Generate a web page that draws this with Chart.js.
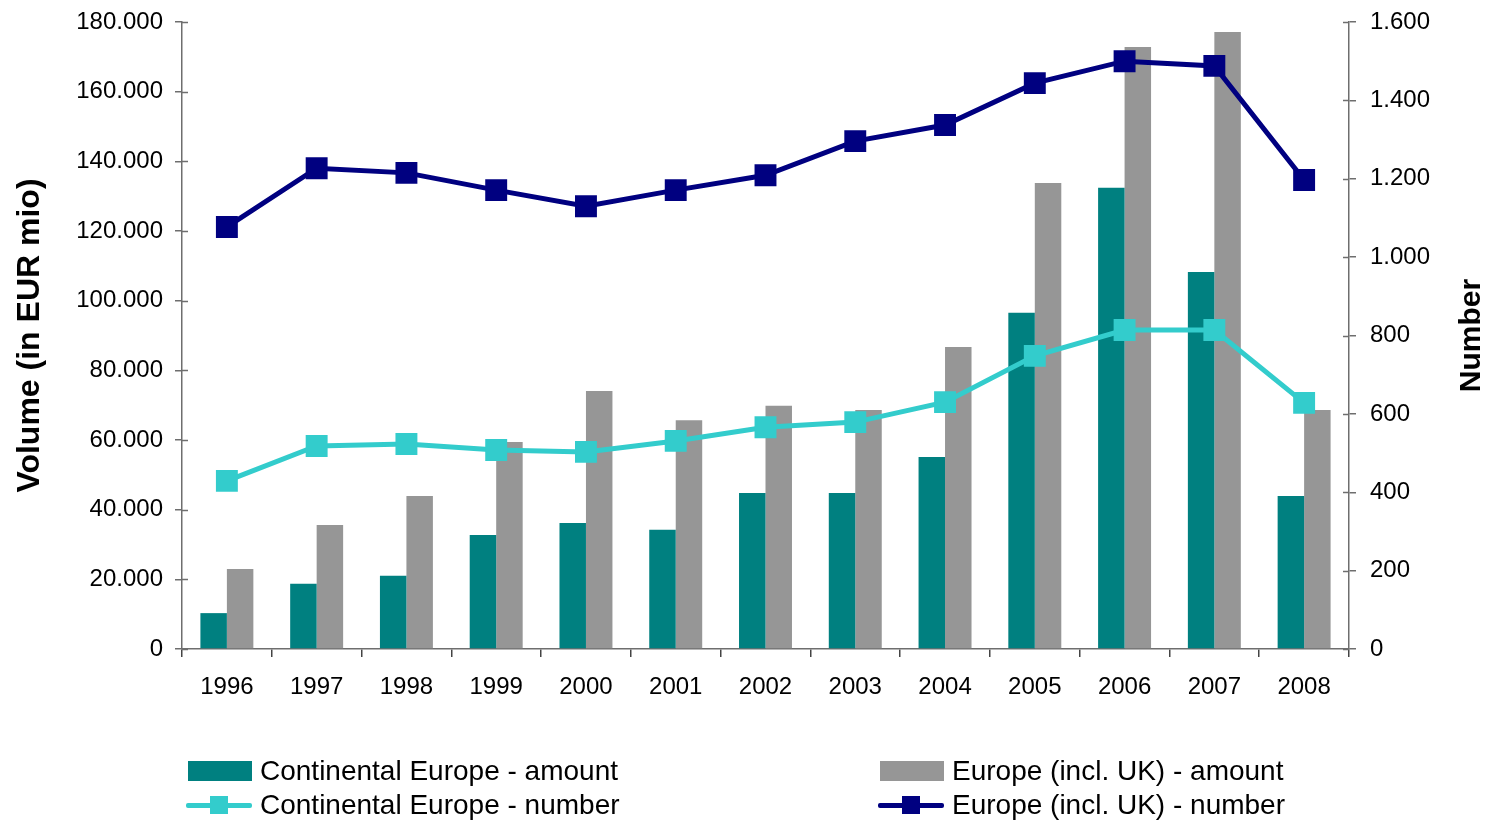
<!DOCTYPE html>
<html>
<head>
<meta charset="utf-8">
<script src="https://cdn.jsdelivr.net/npm/chart.js@4"></script>
<style>
  html, body { margin: 0; padding: 0; background: #fff; }
  #wrap { position: relative; width: 1490px; height: 821px; }
  #chart { position: absolute; left: 0; top: 0; }
  .legend-item {
    position: absolute;
    height: 34px;
    display: flex;
    align-items: center;
    font-family: "Liberation Sans", Arial, sans-serif;
    font-size: 28px;
    color: #000;
    white-space: nowrap;
  }
  .swatch-box { width: 64px; height: 20px; margin-right: 8px; }
  .swatch-line { position: relative; width: 66px; height: 20px; margin-right: 8px; }
  .swatch-line .ln { position: absolute; left: 0; right: 0; top: 8px; height: 5px; border-radius: 2px; }
  .swatch-line .pt { position: absolute; left: 24px; top: 1px; width: 18px; height: 18px; }
</style>
</head>
<body>
<div id="wrap">
  <canvas id="chart" width="1490" height="821"></canvas>
  <div id="legend"></div>
</div>
<script>
// ============================
// DATA
// ============================
const years = ["1996", "1997", "1998", "1999", "2000", "2001", "2002",
               "2003", "2004", "2005", "2006", "2007", "2008"];

// volume in EUR mio (left axis)
const continentalAmount = [10300, 18700, 21000, 32700, 36200, 34200, 44800,
                           44800, 55100, 96500, 132400, 108200, 43900];
const europeAmount = [23000, 35600, 43900, 59400, 74100, 65700, 69800,
                      68600, 86700, 133800, 172800, 177100, 68600];

// number of deals (right axis)
const continentalNumber = [429, 518, 523, 508, 503, 531, 566,
                           579, 630, 748, 814, 814, 628];
const europeNumber = [1077, 1227, 1215, 1171, 1130, 1171, 1209,
                      1296, 1337, 1444, 1500, 1488, 1197];

const seriesLabels = [
  "Continental Europe - amount",
  "Europe (incl. UK) - amount",
  "Continental Europe - number",
  "Europe (incl. UK) - number"
];

const leftTitle = "Volume (in EUR mio)";
const rightTitle = "Number";

// ============================
// STYLE
// ============================
const tealColor = "#008080";
const greyColor = "#969696";
const cyanColor = "#33CCCC";
const navyColor = "#000080";
const axisColor = "#6e6e6e";
const fontFamily = "'Liberation Sans', Arial, sans-serif";

function formatDe(value) {
  return Number(value).toLocaleString("de-DE");
}

// keep the tick labels from pushing the plot area down
function dropLabelPadding(scale) {
  scale.paddingTop = 0;
  scale.paddingBottom = 0;
}

// inner tick halves + right axis title (reads bottom to top)
const extrasPlugin = {
  id: "extras",
  afterDraw(chart) {
    const { ctx, chartArea, scales } = chart;
    ctx.save();
    ctx.strokeStyle = axisColor;
    ctx.lineWidth = 1.5;
    scales.y.ticks.forEach((t, i) => {
      const py = Math.round(scales.y.getPixelForTick(i)) + 0.5;
      ctx.beginPath();
      ctx.moveTo(chartArea.left, py);
      ctx.lineTo(chartArea.left + 6, py);
      ctx.stroke();
    });
    scales.y1.ticks.forEach((t, i) => {
      const py = Math.round(scales.y1.getPixelForTick(i)) + 0.5;
      ctx.beginPath();
      ctx.moveTo(chartArea.right, py);
      ctx.lineTo(chartArea.right - 6, py);
      ctx.stroke();
    });

    ctx.translate(1472, (chartArea.top + chartArea.bottom) / 2);
    ctx.rotate(-Math.PI / 2);
    ctx.font = "bold 30px " + fontFamily;
    ctx.fillStyle = "#000";
    ctx.textAlign = "center";
    ctx.textBaseline = "middle";
    ctx.fillText(rightTitle, 0, 0);
    ctx.restore();
  }
};

const lineDataset = (label, data, color) => ({
  type: "line",
  label: label,
  data: data,
  yAxisID: "y1",
  borderColor: color,
  backgroundColor: color,
  borderWidth: 5,
  tension: 0,
  pointStyle: "rect",
  pointRadius: 15.5,
  pointHoverRadius: 15.5,
  pointBorderWidth: 0,
  pointBackgroundColor: color,
  order: 0
});

const barDataset = (label, data, color) => ({
  type: "bar",
  label: label,
  data: data,
  yAxisID: "y",
  backgroundColor: color,
  borderWidth: 0,
  categoryPercentage: 0.59,
  barPercentage: 1.0,
  order: 1
});

// ============================
// CHART
// ============================
const chart = new Chart(document.getElementById("chart").getContext("2d"), {
  type: "bar",
  data: {
    labels: years,
    datasets: [
      barDataset(seriesLabels[0], continentalAmount, tealColor),
      barDataset(seriesLabels[1], europeAmount, greyColor),
      lineDataset(seriesLabels[2], continentalNumber, cyanColor),
      lineDataset(seriesLabels[3], europeNumber, navyColor)
    ]
  },
  options: {
    responsive: false,
    animation: false,
    layout: { padding: { top: 22, left: 0, right: 0, bottom: 0 } },
    plugins: {
      legend: { display: false },
      tooltip: { enabled: false }
    },
    scales: {
      x: {
        offset: true,
        grid: {
          offset: true,
          drawOnChartArea: false,
          tickLength: 8,
          color: "#444",
          lineWidth: 1.5
        },
        border: { color: axisColor, width: 1.5 },
        ticks: {
          color: "#000",
          padding: 16,
          maxRotation: 0,
          font: { family: fontFamily, size: 24 }
        },
        afterFit(scale) { scale.height = 172; }
      },
      y: {
        position: "left",
        min: 0,
        max: 180000,
        ticks: {
          stepSize: 20000,
          color: "#000",
          padding: 12,
          font: { family: fontFamily, size: 24 },
          callback: v => formatDe(v)
        },
        grid: {
          drawOnChartArea: false,
          tickLength: 7,
          color: axisColor,
          lineWidth: 1.5
        },
        border: { color: axisColor, width: 1.5 },
        title: {
          display: true,
          text: leftTitle,
          color: "#000",
          padding: { top: 11, bottom: 0 },
          font: { family: fontFamily, size: 32, weight: "bold", lineHeight: 1.2 }
        },
        afterFit(scale) {
          scale.width = 182;
          dropLabelPadding(scale);
        }
      },
      y1: {
        position: "right",
        min: 0,
        max: 1600,
        ticks: {
          stepSize: 200,
          color: "#000",
          padding: 14,
          font: { family: fontFamily, size: 24 },
          callback: v => formatDe(v)
        },
        grid: {
          drawOnChartArea: false,
          tickLength: 7,
          color: axisColor,
          lineWidth: 1.5
        },
        border: { color: axisColor, width: 1.5 },
        afterFit(scale) {
          scale.width = 141;
          dropLabelPadding(scale);
        }
      }
    }
  },
  plugins: [extrasPlugin]
});

// ============================
// LEGEND (two columns, two rows)
// ============================
function renderLegend() {
  const legend = document.getElementById("legend");
  const slots = [
    { x: 188, y: 754 },
    { x: 880, y: 754 },
    { x: 186, y: 788 },
    { x: 878, y: 788 }
  ];

  chart.data.datasets.forEach((ds, i) => {
    const item = document.createElement("div");
    item.className = "legend-item";
    item.style.left = slots[i].x + "px";
    item.style.top = slots[i].y + "px";

    let swatch;
    if (ds.type === "bar") {
      swatch = `<div class="swatch-box" style="background:${ds.backgroundColor}"></div>`;
    } else {
      swatch = `<div class="swatch-line">
        <div class="ln" style="background:${ds.borderColor}"></div>
        <div class="pt" style="background:${ds.borderColor}"></div>
      </div>`;
    }
    item.innerHTML = swatch + `<span>${ds.label}</span>`;
    legend.appendChild(item);
  });
}

renderLegend();
</script>
</body>
</html>
